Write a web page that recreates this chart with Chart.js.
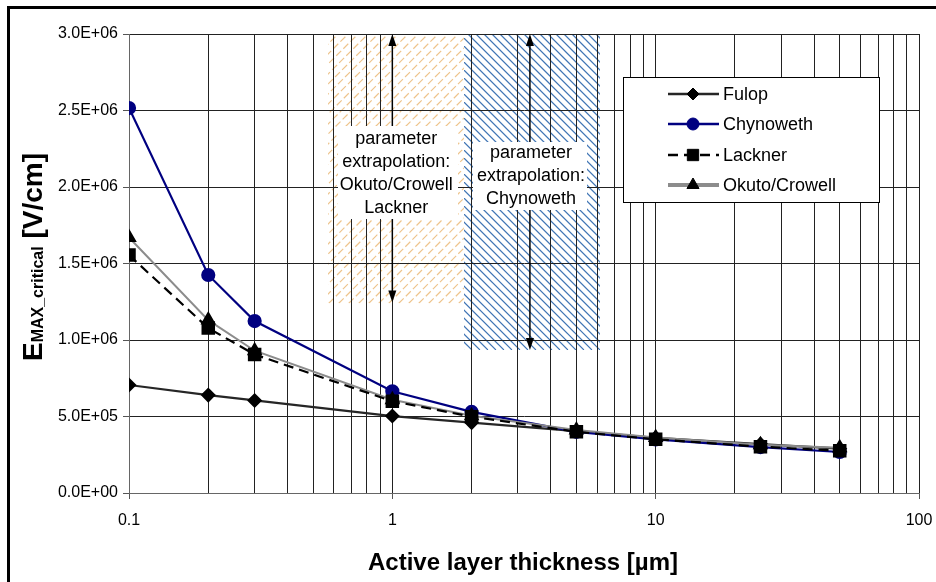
<!DOCTYPE html>
<html>
<head>
<meta charset="utf-8">
<script src="https://cdn.jsdelivr.net/npm/chart.js@4/dist/chart.umd.min.js"></script>
<style>
  html, body { margin: 0; padding: 0; background: #fff; }
</style>
</head>
<body>
<canvas id="chart" width="936" height="582"></canvas>
<script>
// data
var thickness = [0.1, 0.2, 0.3, 1, 2, 5, 10, 25, 50];
var fulop     = [7.06e5, 6.4e5, 6.05e5, 5.03e5, 4.6e5, 4.05e5, 3.6e5, 3.2e5, 2.9e5];
var chynoweth = [2.516e6, 1.425e6, 1.124e6, 6.65e5, 5.3e5, 4.0e5, 3.5e5, 3.0e5, 2.68e5];
var lackner   = [1.555e6, 1.078e6, 9.05e5, 6.0e5, 4.99e5, 4.0e5, 3.51e5, 3.03e5, 2.76e5];
var okuto     = [1.67e6, 1.13e6, 9.3e5, 6.1e5, 5.05e5, 4.12e5, 3.62e5, 3.15e5, 2.95e5];
var seriesNames = ["Fulop", "Chynoweth", "Lackner", "Okuto/Crowell"];

var xTicks = [0.1, 0.2, 0.3, 0.4, 0.5, 0.6, 0.7, 0.8, 0.9,
              1, 2, 3, 4, 5, 6, 7, 8, 9,
              10, 20, 30, 40, 50, 60, 70, 80, 90, 100];
var xMajor = [0.1, 1, 10, 100];
var yTicks = [0, 5e5, 1e6, 1.5e6, 2e6, 2.5e6, 3e6];

// shaded extrapolation ranges [xFrom, xTo, yFrom, yTo]
var rangeOkuto = [0.57, 1.87, 1.24e6, 3.0e6];
var rangeChyn  = [1.87, 6.15, 9.35e5, 3.0e6];
// arrows [x, yFrom, yTo]
var arrowOkuto = [1, 1.245e6, 3.0e6];
var arrowChyn  = [3.33, 9.35e5, 3.0e6];
var noteOkuto = ["parameter", "extrapolation:", "Okuto/Crowell", "Lackner"];
var noteChyn  = ["parameter", "extrapolation:", "Chynoweth"];

var FONT = "'Liberation Sans', Arial, sans-serif";

function fmtExp(v) {
  var s = v.toExponential(1).split('e');
  var e = parseInt(s[1], 10);
  var ae = Math.abs(e);
  return s[0] + 'E' + (e < 0 ? '-' : '+') + (ae < 10 ? '0' : '') + ae;
}

function hatch(ctx, x0, x1, y0, y1, color, spacing, up, dash) {
  ctx.save();
  ctx.beginPath();
  ctx.rect(x0, y0, x1 - x0, y1 - y0);
  ctx.clip();
  ctx.strokeStyle = color;
  ctx.lineWidth = 1.2;
  if (dash) ctx.setLineDash(dash);
  var h = y1 - y0;
  for (var x = x0 - h; x < x1 + h; x += spacing) {
    ctx.beginPath();
    if (up) { ctx.moveTo(x, y1); ctx.lineTo(x + h, y0); }
    else { ctx.moveTo(x, y0); ctx.lineTo(x + h, y1); }
    ctx.stroke();
  }
  ctx.restore();
}

function arrow(ctx, x, yTop, yBot) {
  ctx.save();
  ctx.strokeStyle = '#000';
  ctx.fillStyle = '#000';
  ctx.lineWidth = 1.5;
  ctx.beginPath();
  ctx.moveTo(x, yTop + 8);
  ctx.lineTo(x, yBot - 8);
  ctx.stroke();
  ctx.beginPath();
  ctx.moveTo(x, yTop); ctx.lineTo(x - 4, yTop + 12); ctx.lineTo(x + 4, yTop + 12);
  ctx.closePath(); ctx.fill();
  ctx.beginPath();
  ctx.moveTo(x, yBot); ctx.lineTo(x - 4, yBot - 12); ctx.lineTo(x + 4, yBot - 12);
  ctx.closePath(); ctx.fill();
  ctx.restore();
}

function note(ctx, lines, cx, firstY, step, box) {
  ctx.save();
  ctx.fillStyle = '#fff';
  ctx.fillRect(box[0], box[1], box[2], box[3]);
  ctx.fillStyle = '#000';
  ctx.font = '18px ' + FONT;
  ctx.textAlign = 'center';
  ctx.textBaseline = 'middle';
  for (var i = 0; i < lines.length; i++) {
    ctx.fillText(lines[i], cx, firstY + i * step);
  }
  ctx.restore();
}

var extras = {
  id: 'extras',
  beforeDraw: function (chart) {
    var ctx = chart.ctx, xs = chart.scales.x, ys = chart.scales.y;
    hatch(ctx, xs.getPixelForValue(rangeOkuto[0]), xs.getPixelForValue(rangeOkuto[1]),
          ys.getPixelForValue(rangeOkuto[3]), ys.getPixelForValue(rangeOkuto[2]),
          '#EEC48C', 10, true, [7, 3]);
    hatch(ctx, xs.getPixelForValue(rangeChyn[0]), xs.getPixelForValue(rangeChyn[1]),
          ys.getPixelForValue(rangeChyn[3]), ys.getPixelForValue(rangeChyn[2]),
          '#3F74B4', 8, false, null);
  },
  beforeDatasetsDraw: function (chart) {
    var ctx = chart.ctx, xs = chart.scales.x, ys = chart.scales.y;
    var ax1 = xs.getPixelForValue(arrowOkuto[0]);
    var ax2 = xs.getPixelForValue(arrowChyn[0]);
    arrow(ctx, ax1, ys.getPixelForValue(arrowOkuto[2]), ys.getPixelForValue(arrowOkuto[1]));
    arrow(ctx, ax2, ys.getPixelForValue(arrowChyn[2]), ys.getPixelForValue(arrowChyn[1]));
    note(ctx, noteOkuto, ax1 + 4, 139, 23, [338, 126, 120, 93]);
    note(ctx, noteChyn, ax2 + 1, 153, 23, [473, 142, 114, 68]);
  },
  afterDraw: function (chart) {
    var ctx = chart.ctx;
    ctx.save();
    // outer frame
    ctx.strokeStyle = '#000';
    ctx.lineWidth = 3;
    ctx.strokeRect(8.5, 7.5, 1000, 1000);

    // legend
    ctx.fillStyle = '#fff';
    ctx.fillRect(623, 77, 256, 125);
    ctx.lineWidth = 1;
    ctx.strokeRect(623.5, 77.5, 256, 125);
    var rows = [94, 124, 155, 185];
    chart.data.datasets.forEach(function (ds, i) {
      var y = rows[i];
      ctx.save();
      ctx.strokeStyle = ds.borderColor;
      ctx.lineWidth = i === 3 ? 4 : 2.5;
      ctx.setLineDash(ds.borderDash || []);
      ctx.beginPath();
      ctx.moveTo(668, y); ctx.lineTo(719, y);
      ctx.stroke();
      ctx.setLineDash([]);
      ctx.fillStyle = ds.pointBackgroundColor;
      ctx.strokeStyle = ds.pointBorderColor;
      ctx.lineWidth = 1;
      Chart.helpers.drawPoint(ctx, {pointStyle: ds.pointStyle, radius: ds.pointRadius, rotation: 0, borderWidth: 1}, 693, y);
      ctx.restore();
      ctx.fillStyle = '#000';
      ctx.font = '18px ' + FONT;
      ctx.textAlign = 'left';
      ctx.textBaseline = 'middle';
      ctx.fillText(ds.label, 723, y + 1);
    });

    // x title
    ctx.fillStyle = '#000';
    ctx.font = 'bold 24px ' + FONT;
    ctx.textAlign = 'center';
    ctx.textBaseline = 'alphabetic';
    ctx.fillText('Active layer thickness [\u00b5m]', 523, 570);

    // y title, rotated with subscript
    var big = 'bold 28px ' + FONT, small = 'bold 16px ' + FONT;
    ctx.translate(42, 257);
    ctx.rotate(-Math.PI / 2);
    ctx.textAlign = 'left';
    ctx.font = big; var w1 = ctx.measureText('E').width;
    var w3 = ctx.measureText(' [V/cm]').width;
    ctx.font = small; var w2 = ctx.measureText('MAX_critical').width;
    var x0 = -(w1 + w2 + w3) / 2;
    ctx.font = big; ctx.fillText('E', x0, 0);
    ctx.font = small; ctx.fillText('MAX_critical', x0 + w1, 1);
    ctx.font = big; ctx.fillText(' [V/cm]', x0 + w1 + w2, 0);
    ctx.restore();
  }
};

function pts(ys) {
  return thickness.map(function (x, i) { return {x: x, y: ys[i]}; });
}

new Chart(document.getElementById('chart'), {
  type: 'line',
  data: {
    datasets: [
      {label: seriesNames[0], data: pts(fulop), borderColor: '#262626', borderWidth: 2.2,
       pointStyle: 'rectRot', pointRadius: 6, pointBackgroundColor: '#000', pointBorderColor: '#000', order: 3},
      {label: seriesNames[1], data: pts(chynoweth), borderColor: '#000080', borderWidth: 2.2,
       pointStyle: 'circle', pointRadius: 6, pointBackgroundColor: '#000080', pointBorderColor: '#000080', order: 2},
      {label: seriesNames[2], data: pts(lackner), borderColor: '#000000', borderWidth: 2.2, borderDash: [10, 6],
       pointStyle: 'rect', pointRadius: 8, pointBackgroundColor: '#000', pointBorderColor: '#000', order: 0},
      {label: seriesNames[3], data: pts(okuto), borderColor: '#8c8c8c', borderWidth: 2,
       pointStyle: 'triangle', pointRadius: 7, pointBackgroundColor: '#000', pointBorderColor: '#000', order: 1}
    ]
  },
  options: {
    responsive: false,
    animation: false,
    devicePixelRatio: 1,
    layout: {padding: {top: 34, right: 17, left: 0, bottom: 0}},
    elements: {line: {tension: 0}},
    plugins: {legend: {display: false}, tooltip: {enabled: false}},
    scales: {
      x: {
        type: 'logarithmic',
        min: 0.1, max: 100,
        afterBuildTicks: function (scale) {
          scale.ticks = xTicks.map(function (v) { return {value: v, major: xMajor.indexOf(v) >= 0}; });
        },
        afterFit: function (scale) {
          scale.height = 89;
          scale.paddingLeft = 0;
          scale.paddingRight = 0;
        },
        ticks: {
          autoSkip: false, maxRotation: 0, padding: 12, color: '#000',
          font: {family: FONT, size: 16},
          callback: function (v) { return xMajor.indexOf(v) >= 0 ? String(v) : ''; }
        },
        grid: {
          color: '#222', lineWidth: 1, tickLength: 6,
          tickColor: function (c) { return c.tick && xMajor.indexOf(c.tick.value) >= 0 ? '#555' : 'rgba(0,0,0,0)'; }
        },
        border: {color: '#666', width: 1}
      },
      y: {
        min: 0, max: 3e6,
        afterBuildTicks: function (scale) {
          scale.ticks = yTicks.map(function (v) { return {value: v}; });
        },
        afterFit: function (scale) {
          scale.width = 129;
          scale.paddingTop = 0;
          scale.paddingBottom = 0;
        },
        ticks: {
          padding: 5, color: '#000',
          font: {family: FONT, size: 16},
          callback: function (v) { return fmtExp(v); }
        },
        grid: {color: '#222', lineWidth: 1, tickLength: 6, tickColor: '#555'},
        border: {color: '#666', width: 1}
      }
    }
  },
  plugins: [extras]
});
</script>
</body>
</html>
